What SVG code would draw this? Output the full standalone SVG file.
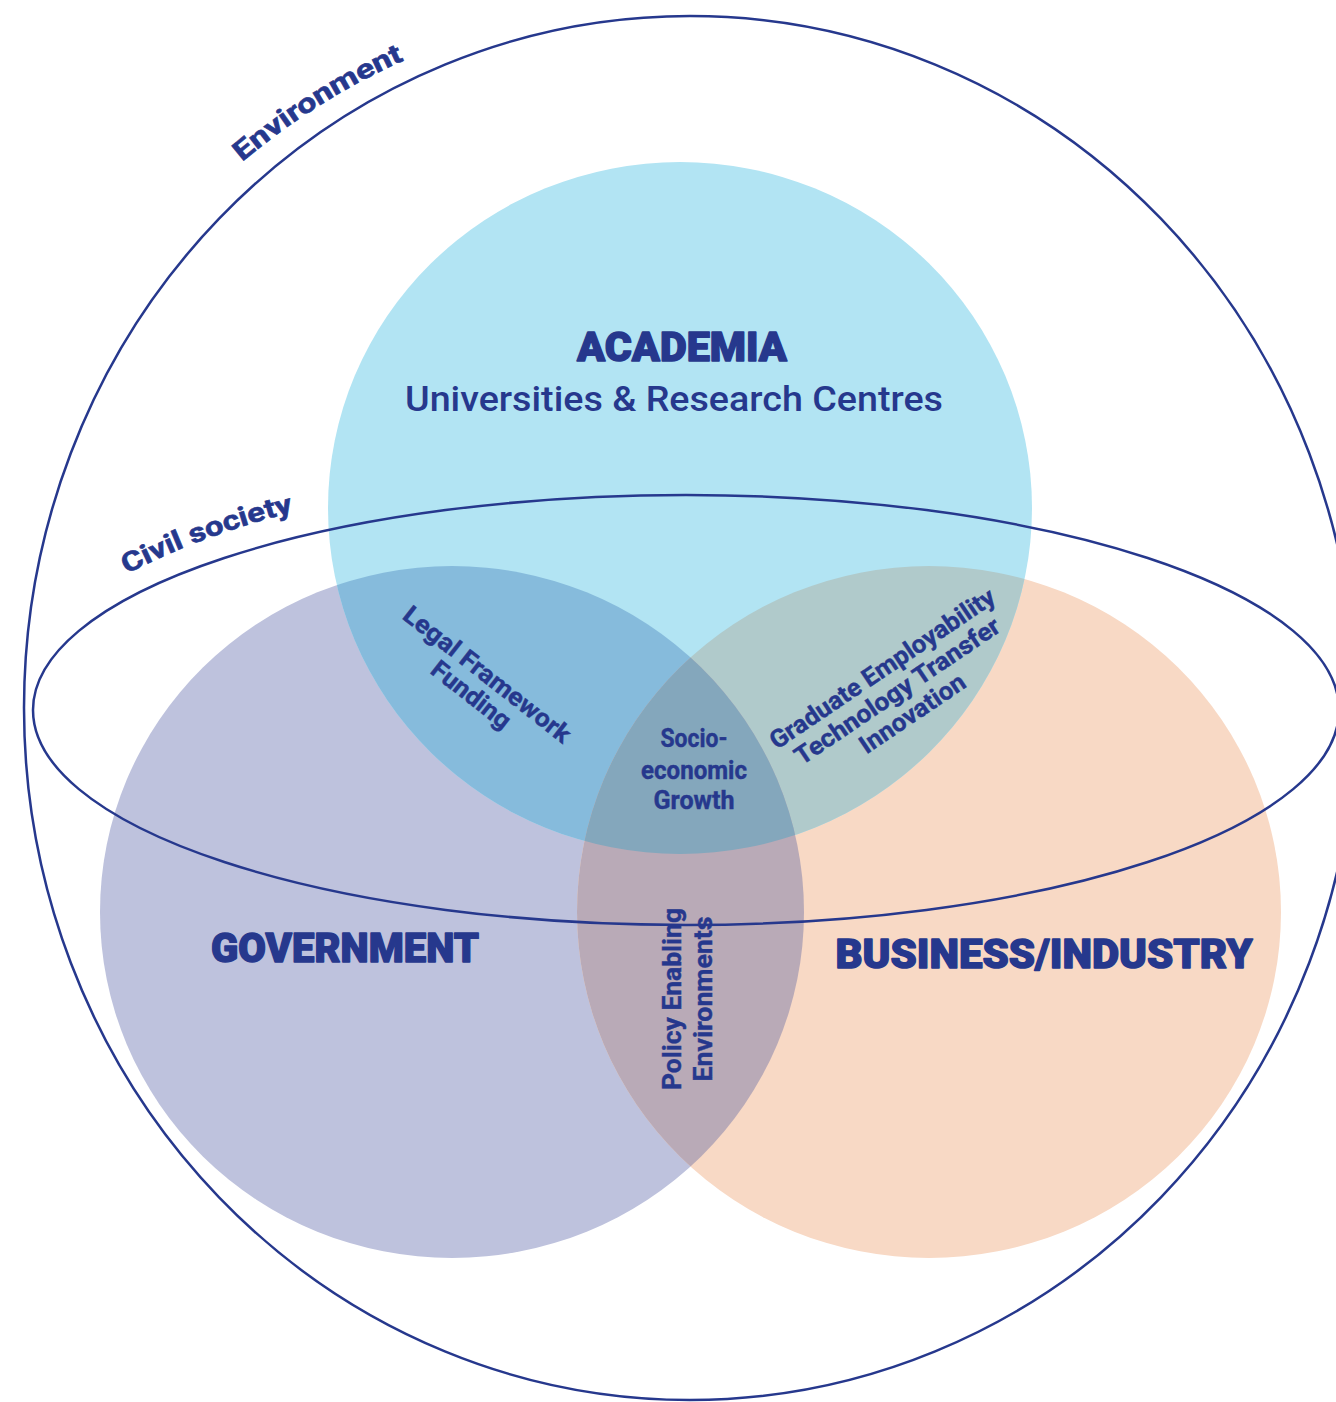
<svg xmlns="http://www.w3.org/2000/svg" width="1336" height="1402" viewBox="0 0 1336 1402">
<style>
.t{fill:#26388d;font-family:Roboto,"Liberation Sans",sans-serif;font-weight:700}
.big{font-size:41px;font-weight:900;stroke:#26388d;stroke-width:1.4;stroke-linejoin:round}
.sub{font-size:35px;font-weight:500}
.sm{font-size:25px;stroke:#26388d;stroke-width:0.4}
.arc{stroke:#26388d;stroke-width:0.6}
.ring{fill:none;stroke:#26388d;stroke-width:2.5}
</style>
<defs>
<clipPath id="cA"><ellipse cx="680" cy="508" rx="352" ry="346"/></clipPath>
<clipPath id="cG"><ellipse cx="452" cy="912" rx="352" ry="346"/></clipPath>
<path id="envPath" d="M 242 162 A 700 720 0 0 1 472 34"/>
<path id="civPath" d="M 127 574 A 620 420 0 0 1 325 505"/>
</defs>
<rect width="1336" height="1402" fill="#ffffff"/>
<g id="government"><ellipse cx="452" cy="912" rx="352" ry="346" fill="#bec2dd"/></g>
<g id="business"><ellipse cx="929" cy="912" rx="352" ry="346" fill="#f8d9c5"/></g>
<g id="academia"><ellipse cx="680" cy="508" rx="352" ry="346" fill="#b2e4f3"/></g>
<g id="overlaps">
<g clip-path="url(#cA)"><ellipse cx="452" cy="912" rx="352" ry="346" fill="#86bbdc"/></g>
<g clip-path="url(#cA)"><ellipse cx="929" cy="912" rx="352" ry="346" fill="#b0cacb"/></g>
<g clip-path="url(#cG)"><ellipse cx="929" cy="912" rx="352" ry="346" fill="#b9aab7"/></g>
<g clip-path="url(#cA)"><g clip-path="url(#cG)"><ellipse cx="929" cy="912" rx="352" ry="346" fill="#84a7bc"/></g></g>
</g>
<g id="labels">
<text class="t big" x="682" y="361" text-anchor="middle" textLength="210" lengthAdjust="spacingAndGlyphs">ACADEMIA</text>
<text class="t sub" x="674" y="411" text-anchor="middle" textLength="538" lengthAdjust="spacingAndGlyphs">Universities &amp; Research Centres</text>
<text class="t big" x="345" y="962" text-anchor="middle" textLength="268" lengthAdjust="spacingAndGlyphs">GOVERNMENT</text>
<text class="t big" x="1044" y="968" text-anchor="middle" textLength="417" lengthAdjust="spacingAndGlyphs">BUSINESS/INDUSTRY</text>
<g id="socio">
<text class="t sm" x="694" y="747" text-anchor="middle" textLength="67" lengthAdjust="spacingAndGlyphs">Socio-</text>
<text class="t sm" x="694" y="779" text-anchor="middle" textLength="106" lengthAdjust="spacingAndGlyphs">economic</text>
<text class="t sm" x="694" y="809" text-anchor="middle" textLength="81" lengthAdjust="spacingAndGlyphs">Growth</text>
</g>
<g id="legal" transform="translate(482,681) rotate(38)">
<text class="t sm" x="0" y="0" text-anchor="middle" textLength="205" lengthAdjust="spacingAndGlyphs">Legal Framework</text>
<text class="t sm" x="0" y="26" text-anchor="middle" textLength="94" lengthAdjust="spacingAndGlyphs">Funding</text>
</g>
<g id="graduate" transform="translate(902,698) rotate(-34)">
<text class="t sm" x="0" y="-27" text-anchor="middle" textLength="266" lengthAdjust="spacingAndGlyphs">Graduate Employability</text>
<text class="t sm" x="0" y="0" text-anchor="middle" textLength="242" lengthAdjust="spacingAndGlyphs">Technology Transfer</text>
<text class="t sm" x="0" y="27" text-anchor="middle" textLength="122" lengthAdjust="spacingAndGlyphs">Innovation</text>
</g>
<g id="policy" transform="translate(696,999) rotate(-90)">
<text class="t sm" x="0" y="-15" text-anchor="middle" textLength="182" lengthAdjust="spacingAndGlyphs">Policy Enabling</text>
<text class="t sm" x="0" y="16" text-anchor="middle" textLength="165" lengthAdjust="spacingAndGlyphs">Environments</text>
</g>
<text class="t arc" font-size="27"><textPath href="#envPath" textLength="192" lengthAdjust="spacingAndGlyphs">Environment</textPath></text>
<text class="t arc" font-size="27"><textPath href="#civPath" textLength="178" lengthAdjust="spacingAndGlyphs">Civil society</textPath></text>
</g>
<g id="connectors">
<ellipse class="ring" cx="690" cy="708" rx="666" ry="692"/>
<ellipse class="ring" cx="686" cy="710" rx="653" ry="215"/>
</g>
</svg>
